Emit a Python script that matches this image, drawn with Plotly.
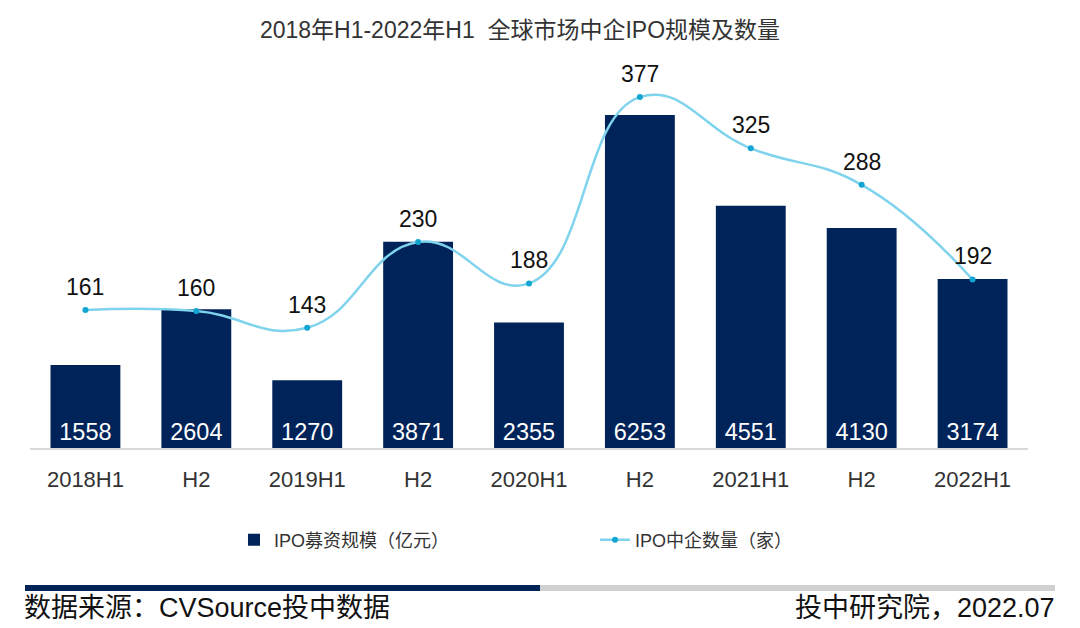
import plotly.graph_objects as go

categories = ["2018H1", "H2", "2019H1", "H2 ", "2020H1", "H2  ", "2021H1", "H2   ", "2022H1"]
tick_labels = ["2018H1", "H2", "2019H1", "H2", "2020H1", "H2", "2021H1", "H2", "2022H1"]
ipo_amount = [1558, 2604, 1270, 3871, 2355, 6253, 4551, 4130, 3174]
ipo_count = [161, 160, 143, 230, 188, 377, 325, 288, 192]

FONT = "Liberation Sans, Noto Sans CJK SC, sans-serif"
BAR = "#00235A"
LINE = "#7FD3EC"
MARK = "#12A5D2"

fig = go.Figure()
fig.add_trace(go.Bar(
    x=categories, y=ipo_amount, name="IPO募资规模（亿元）",
    marker=dict(color=BAR, line=dict(width=0)), width=0.63,
    text=[str(v) for v in ipo_amount], textposition="inside",
    insidetextanchor="start", textangle=0,
    textfont=dict(color="white", size=23.5, family=FONT),
    hoverinfo="skip",
))
fig.add_trace(go.Scatter(
    x=categories, y=ipo_count, name="IPO中企数量（家）", yaxis="y2",
    mode="lines+markers", line=dict(color=LINE, width=2.5, shape="spline", smoothing=1.3),
    marker=dict(color=MARK, size=6),
    cliponaxis=False,
))

annotations = [
    dict(x=c, y=v, xref="x", yref="y2", text=str(v), showarrow=False, yshift=23,
         yanchor="middle", font=dict(size=23, color="#111111", family=FONT))
    for c, v in zip(categories, ipo_count)
]
annotations += [
    dict(text="数据来源：CVSource投中数据", xref="paper", yref="paper", x=-8/998, xanchor="left",
         y=-160/388, yanchor="middle", showarrow=False, font=dict(size=27, color="#111111", family=FONT)),
    dict(text="投中研究院，2022.07", xref="paper", yref="paper", x=1027/998, xanchor="right",
         y=-160/388, yanchor="middle", showarrow=False, font=dict(size=27, color="#111111", family=FONT)),
]

fig.update_layout(
    width=1080, height=628,
    margin=dict(l=30, r=52, t=60, b=180),
    paper_bgcolor="white", plot_bgcolor="white",
    font=dict(family=FONT, color="#222222"),
    title=dict(text="2018年H1-2022年H1  全球市场中企IPO规模及数量", x=520/1080, xanchor="center",
               xref="container",
               y=0.952, yanchor="middle", font=dict(size=23, color="#333333", family=FONT)),
    bargap=0.37,
    showlegend=True,
    legend=dict(orientation="h", x=0.2044, xanchor="left", y=-0.237, yanchor="middle",
                font=dict(size=18, color="#333333", family=FONT), entrywidth=316,
                entrywidthmode="pixels", itemclick=False, traceorder="normal"),
    xaxis=dict(tickmode="array", tickvals=categories, ticktext=tick_labels,
               tickfont=dict(size=22, color="#333333", family=FONT), ticklabelstandoff=11,
               showline=True, linecolor="#D9D9D9", linewidth=1.5, ticks="", showgrid=False),
    yaxis=dict(range=[0, 7286], visible=False, showgrid=False),
    yaxis2=dict(range=[21.1, 414.6], overlaying="y", visible=False, showgrid=False),
    shapes=[
        dict(type="rect", xref="paper", yref="paper", x0=-5/998, x1=510/998, y0=-137/388, y1=-143/388,
             fillcolor="#00235A", line=dict(width=0)),
        dict(type="rect", xref="paper", yref="paper", x0=510/998, x1=1025/998, y0=-137/388, y1=-143/388,
             fillcolor="#D0D0D0", line=dict(width=0)),
    ],
    annotations=annotations,
)

fig.write_html("out.html")
